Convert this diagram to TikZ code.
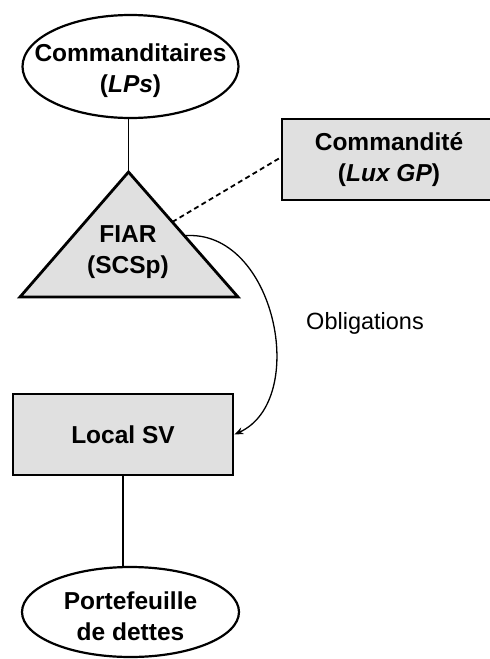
\documentclass[tikz,border=0pt]{standalone}
\usepackage{fontspec}
\setmainfont{Liberation Sans}
\usetikzlibrary{shapes.geometric,arrows.meta,calc}

\definecolor{boxgray}{RGB}{224,224,224}

\tikzset{
  lbl/.style={font=\fontsize{24.5}{31.5}\selectfont\bfseries, align=center},
  % fixed-size ellipse; its caption sits on top so it does not widen the outline
  oval/.style={ellipse, draw, line width=2.2pt, fill=white, inner sep=0pt,
    label={[lbl, yshift=-4pt]center:#1}},
  entity/.style={rectangle, draw, line width=2.8pt, fill=boxgray, inner sep=0pt, lbl},
  link/.style={line width=1.6pt},
  dashlink/.style={line width=1.8pt, dash pattern=on 5pt off 3.5pt},
  flow/.style={line width=1.3pt, -{Stealth[length=9pt,width=7pt]}}
}

\begin{document}
\begin{tikzpicture}[x=1pt, y=-1pt]
  \useasboundingbox (0,0) rectangle (490,659);

  % limited partners
  \node[oval={Commanditaires\\(\textit{LPs})}, minimum width=216pt, minimum height=103pt]
    (lps) at (130.5,66.5) {};

  % the fund, drawn as a triangle
  \coordinate (apex) at (128.5,172);
  \coordinate (bl) at (20,297);
  \coordinate (br) at (238,297);
  \draw[line width=2.8pt, fill=boxgray, line join=miter] (apex) -- (br) -- (bl) -- cycle;
  \node[lbl] (fiar) at (128,252) {FIAR\\(SCSp)};
  \coordinate (gpdock) at ($(apex)!0.4!(br)$);
  \coordinate (bonddock) at ($(apex)!0.51!(br)$);

  % general partner (runs off the right edge)
  \node[entity, minimum width=214pt, minimum height=81pt] (gp) at (389,159.5)
    {Commandité\\(\textit{Lux GP})};

  % local vehicle
  \node[entity, minimum width=220pt, minimum height=81pt] (sv) at (123,434.5)
    {Local SV};

  % debt portfolio
  \node[oval={Portefeuille\\de dettes}, minimum width=217pt, minimum height=90pt]
    (pf) at (130.5,612) {};

  % connectors
  \draw[link] (apex |- lps.south) -- (apex);
  \draw[dashlink] (gpdock) -- ([yshift=2pt]gp.west);
  \draw[flow] (bonddock) .. controls (275,228) and (310,400) .. (sv.east);
  \draw[link] (sv.south) -- (sv.south |- pf.north);

  \node[font=\fontsize{23.5}{28}\selectfont] (oblig) at (365,323) {Obligations};
\end{tikzpicture}
\end{document}
